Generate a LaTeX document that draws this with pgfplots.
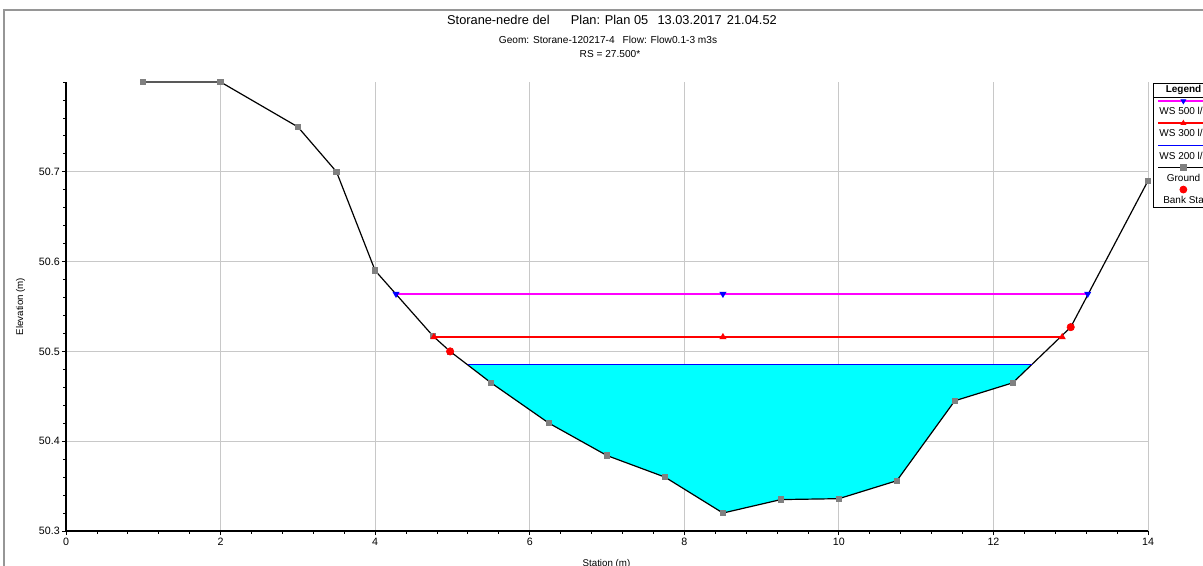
\documentclass[border=0pt]{standalone}
\usepackage{fontspec}
\setmainfont{Liberation Sans}
\usepackage{pgfplots}
\pgfplotsset{compat=1.18}
\definecolor{gridgray}{RGB}{200,200,200}
\definecolor{groundgray}{RGB}{128,128,128}
\definecolor{framegray}{RGB}{150,150,150}
\definecolor{wsmagenta}{RGB}{255,0,255}
\definecolor{wscyan}{RGB}{0,255,255}
\definecolor{wsred}{RGB}{255,0,0}
\definecolor{wsblue}{RGB}{0,0,255}
\begin{document}
\begin{tikzpicture}
\draw[framegray, line width=1pt] (-46.5pt,-30pt) -- (-46.5pt,390.75pt) -- (860pt,390.75pt);
\begin{axis}[
  scale only axis, width=811.5pt, height=336.75pt,
  at={(0,0)}, anchor=south west,
  xmin=0, xmax=14, ymin=50.3, ymax=50.8,
  axis lines*=left,
  axis line style={black, line width=0.9pt},
  xtick={0,2,...,14},
  ytick={50.3,50.4,50.5,50.6,50.7},
  minor xtick={0,0.4,...,14},
  minor ytick={50.32,50.34,...,50.79},
  tick align=outside, major tick length=3pt, minor tick length=2pt,
  tick style={black, line width=0.6pt},
  grid=major, major grid style={gridgray, line width=0.75pt},
  /pgf/number format/assume math mode=true,
  ticklabel style={font=\fontsize{8}{9}\selectfont},
  yticklabel style={/pgf/number format/fixed, /pgf/number format/precision=1, inner sep=1.5pt},
  xticklabel style={inner sep=2pt},
  xlabel={Station (m)},
  ylabel={Elevation (m)},
  label style={font=\fontsize{7.3}{9}\selectfont},
  xlabel style={at={(axis description cs:0.4995,-0.073)}, anchor=center},
  ylabel style={at={(axis description cs:-0.042,0.5)}, anchor=center},
  legend style={at={(1.0046,0.998)}, anchor=north west, draw=black, line width=0.6pt,
    fill=white, inner sep=1.5pt, row sep=9.6pt, column sep=3pt,
    font=\fontsize{7.5}{9}\selectfont, cells={anchor=center},
    nodes={inner sep=0pt, text height=5.5pt, text depth=1.5pt}},
]
% water fill for WS 200 l/s
\addplot[draw=none, fill=wscyan, forget plot] coordinates {
  (5.195,50.4855) (5.5,50.465) (6.25,50.42) (7,50.384) (7.75,50.36) (8.5,50.32)
  (9.25,50.335) (10,50.336) (10.75,50.356) (11.5,50.445) (12.25,50.465) (12.495,50.4855)
} -- cycle;
% ground
\addplot[draw=black, line width=0.9pt, mark=square*, mark size=1.9pt,
  mark options={draw=groundgray, fill=groundgray}, forget plot] coordinates {
  (1,50.8) (2,50.8) (3,50.75) (3.5,50.7) (4,50.59) (4.75,50.517) (4.97,50.5)
  (5.5,50.465) (6.25,50.42) (7,50.384) (7.75,50.36) (8.5,50.32) (9.25,50.335)
  (10,50.336) (10.75,50.356) (11.5,50.445) (12.25,50.465) (13.0,50.527) (14,50.69)
};
% WS 200
\addplot[draw=wsblue, line width=1.1pt, forget plot] coordinates {(5.195,50.4855) (12.495,50.4855)};
% WS 300
\addplot[draw=wsred, color=wsred, line width=1.1pt, mark=triangle*, mark size=2pt,
  mark options={draw=wsred, fill=wsred}, forget plot] coordinates {(4.76,50.516) (8.5,50.516) (12.89,50.516)};
% WS 500
\addplot[draw=wsmagenta, color=wsmagenta, line width=1.1pt, mark=triangle*, mark size=2pt,
  mark options={draw=wsblue, fill=wsblue, rotate=180}, forget plot] coordinates {(4.27,50.564) (8.5,50.564) (13.22,50.564)};
% bank stations
\addplot[only marks, mark=*, mark size=2.8pt, draw=wsred, fill=wsred, forget plot] coordinates {(4.97,50.5) (13.0,50.527)};

% legend
\addlegendimage{legend image code/.code={
  \draw[overlay, black, line width=0.6pt] (-1.5pt,-5.6pt) -- (90pt,-5.6pt);}}
\addlegendentry{\textbf{Legend}}
\addlegendimage{legend image code/.code={
  \draw[overlay, wsmagenta, line width=1.1pt] (2pt,8.3pt) -- (90pt,8.3pt);
  \draw[overlay] plot[mark=triangle*, mark size=2pt, mark options={draw=wsblue, fill=wsblue, rotate=180}] coordinates {(21pt,8.3pt)};}}
\addlegendentry{WS 500 l/s}
\addlegendimage{legend image code/.code={
  \draw[overlay, wsred, line width=1.1pt] (2pt,8.3pt) -- (90pt,8.3pt);
  \draw[overlay] plot[mark=triangle*, mark size=2pt, mark options={draw=wsred, fill=wsred}] coordinates {(21pt,8.3pt)};}}
\addlegendentry{WS 300 l/s}
\addlegendimage{legend image code/.code={
  \draw[overlay, wsblue, line width=1.1pt] (2pt,8.3pt) -- (90pt,8.3pt);}}
\addlegendentry{WS 200 l/s}
\addlegendimage{legend image code/.code={
  \draw[overlay, black, line width=0.9pt] (2pt,8.3pt) -- (90pt,8.3pt);
  \draw[overlay] plot[mark=square*, mark size=1.9pt, mark options={draw=groundgray, fill=groundgray}] coordinates {(21pt,8.3pt)};}}
\addlegendentry{Ground}
\addlegendimage{legend image code/.code={
  \draw[overlay] plot[mark=*, mark size=2.6pt, mark options={draw=wsred, fill=wsred}] coordinates {(21pt,8.3pt)};}}
\addlegendentry{Bank Sta}
\end{axis}
\node[font=\fontsize{9.6}{11}\selectfont] at (409.5pt,383.25pt)
  {Storane-nedre del\hspace{16pt}Plan: Plan 05\hspace{7pt}13.03.2017\hspace{4pt}21.04.52};
\node[font=\fontsize{7.6}{9}\selectfont] at (406.5pt,368.25pt)
  {Geom: Storane-120217-4\hspace{6pt}Flow: Flow0.1-3 m3s};
\node[font=\fontsize{7.6}{9}\selectfont] at (408pt,358pt) {RS = 27.500*};
\pgfresetboundingbox
\path[use as bounding box] (-49.5pt,-25.5pt) rectangle (852.75pt,398.25pt);
\end{tikzpicture}
\end{document}
